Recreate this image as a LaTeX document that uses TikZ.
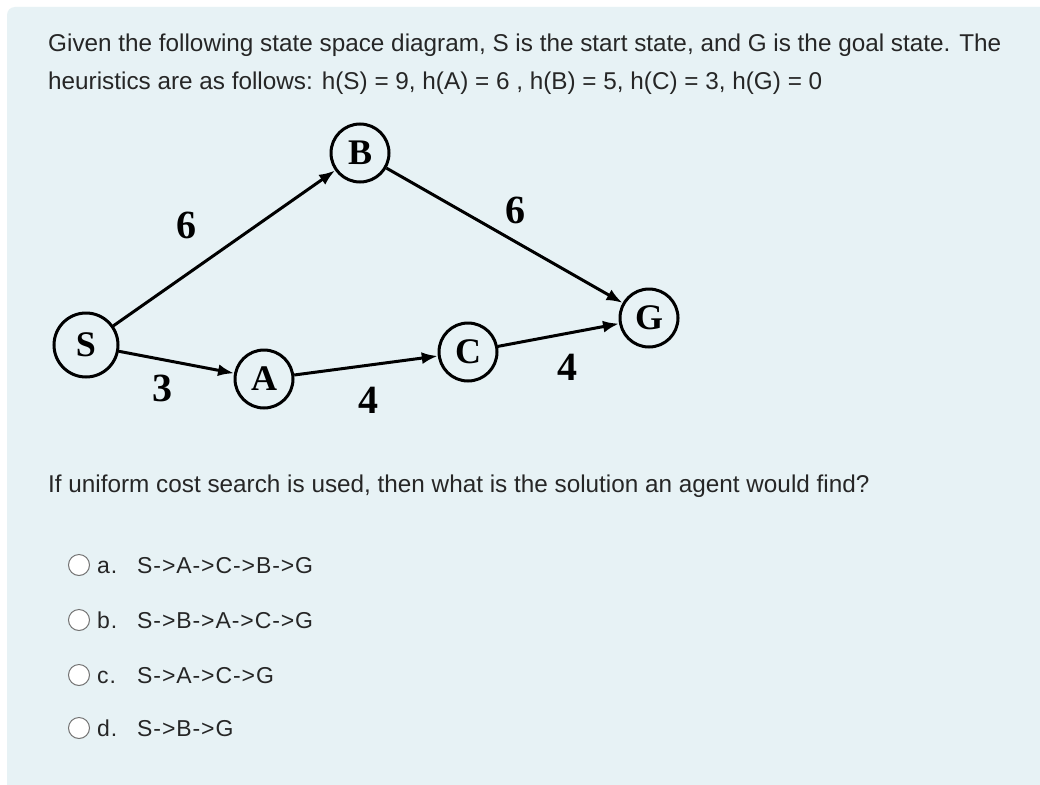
\documentclass[tikz,border=0pt]{standalone}
\usepackage{fontspec}
\setmainfont{Liberation Sans}
\newfontfamily\tnr{Liberation Serif}
\newfontfamily\optfont[LetterSpace=4]{Liberation Sans}
\begin{document}
\begin{tikzpicture}[x=1pt,y=-1pt,
 st/.style={circle,draw,line width=3pt,minimum size=58pt,inner sep=0pt,font=\tnr\bfseries\fontsize{36}{36}\selectfont},
 ed/.style={line width=3pt,-{Latex[length=16pt,width=12pt]}},
 wt/.style={font=\tnr\bfseries\fontsize{40}{40}\selectfont},
 tx/.style={anchor=base west,inner sep=0pt,font=\fontsize{24.3}{28}\selectfont,text=black!85},
 ox/.style={anchor=base west,inner sep=0pt,font=\optfont\fontsize{23}{28}\selectfont,text=black!85},
 rb/.style={circle,draw=black!55,line width=1pt,minimum size=21pt,inner sep=0pt}]
\usetikzlibrary{arrows.meta}
\useasboundingbox (0,0) rectangle (1040,784);
\fill[white] (0,0) rectangle (1040,784);
\fill[fill={rgb,255:red,231;green,242;blue,245}] (7,7) [rounded corners=8pt] rectangle (1060,800);
\node[tx] (t1) at (48,52) {Given the following state space diagram, S is the start state, and G is the goal state. The};
\node[tx] (t2) at (48,89) {heuristics are as follows: h(S) = 9, h(A) = 6 , h(B) = 5, h(C) = 3, h(G) = 0};
\node[st,minimum size=64pt] (S) at (86,345) {S};
\node[st] (B) at (360,153) {B};
\node[st] (A) at (264,379) {A};
\node[st] (C) at (468,352) {C};
\node[st] (G) at (649,318) {G};
\draw[ed] (S) -- (B);
\draw[ed] (B) -- (G);
\draw[ed] (S) -- (A);
\draw[ed] (A) -- (C);
\draw[ed] (C) -- (G);
\node[wt] (w1) at (186,225) {6};
\node[wt] (w2) at (515,210) {6};
\node[wt] (w3) at (162,388) {3};
\node[wt] (w4) at (368,400) {4};
\node[wt] (w5) at (567,367) {4};
\node[tx] (q) at (48,492) {If uniform cost search is used, then what is the solution an agent would find?};
\foreach \y/\l/\s [count=\i] in {565/a./S->A->C->B->G,620/b./S->B->A->C->G,675/c./S->A->C->G,728/d./S->B->G}{
 \node[rb,fill=white] (r\i) at (79,\y) {};
 \node[ox] (l\i) at (97,\y+8) {\l};
 \node[ox] (o\i) at (137,\y+8) {\s};
}
\end{tikzpicture}
\end{document}
